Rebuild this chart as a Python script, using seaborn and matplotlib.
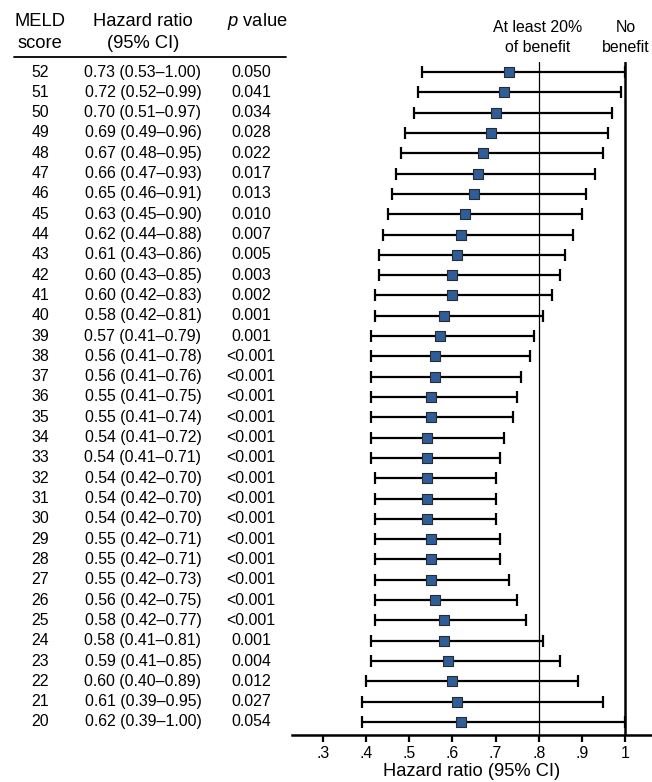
import matplotlib
matplotlib.use("Agg")
import matplotlib.pyplot as plt
import matplotlib.transforms as mtransforms
import seaborn as sns
import pandas as pd
import numpy as np

meld = [52, 51, 50, 49, 48, 47, 46, 45, 44, 43, 42, 41, 40, 39, 38, 37, 36,
        35, 34, 33, 32, 31, 30, 29, 28, 27, 26, 25, 24, 23, 22, 21, 20]
hr = [0.73, 0.72, 0.70, 0.69, 0.67, 0.66, 0.65, 0.63, 0.62, 0.61, 0.60, 0.60,
      0.58, 0.57, 0.56, 0.56, 0.55, 0.55, 0.54, 0.54, 0.54, 0.54, 0.54, 0.55,
      0.55, 0.55, 0.56, 0.58, 0.58, 0.59, 0.60, 0.61, 0.62]
lo = [0.53, 0.52, 0.51, 0.49, 0.48, 0.47, 0.46, 0.45, 0.44, 0.43, 0.43, 0.42,
      0.42, 0.41, 0.41, 0.41, 0.41, 0.41, 0.41, 0.41, 0.42, 0.42, 0.42, 0.42,
      0.42, 0.42, 0.42, 0.42, 0.41, 0.41, 0.40, 0.39, 0.39]
hi = [1.00, 0.99, 0.97, 0.96, 0.95, 0.93, 0.91, 0.90, 0.88, 0.86, 0.85, 0.83,
      0.81, 0.79, 0.78, 0.76, 0.75, 0.74, 0.72, 0.71, 0.70, 0.70, 0.70, 0.71,
      0.71, 0.73, 0.75, 0.77, 0.81, 0.85, 0.89, 0.95, 1.00]
pval = ["0.050", "0.041", "0.034", "0.028", "0.022", "0.017", "0.013", "0.010",
        "0.007", "0.005", "0.003", "0.002", "0.001", "0.001"] + ["<0.001"] * 14 + \
       ["0.001", "0.004", "0.012", "0.027", "0.054"]
xticks = [0.3, 0.4, 0.5, 0.6, 0.7, 0.8, 0.9, 1.0]
xticklabels = [".3", ".4", ".5", ".6", ".7", ".8", ".9", "1"]

df = pd.DataFrame({"meld": meld, "hr": hr, "lo": lo, "hi": hi, "p": pval})
df["row"] = np.arange(len(df))

sns.set_theme(style="white")
plt.rcParams["font.family"] = ["Liberation Sans", "DejaVu Sans"]
plt.rcParams["text.color"] = "black"
plt.rcParams["axes.labelcolor"] = "black"
plt.rcParams["xtick.color"] = "black"
plt.rcParams["mathtext.fontset"] = "custom"
plt.rcParams["mathtext.it"] = "Liberation Sans:italic"
plt.rcParams["mathtext.rm"] = "Liberation Sans"

W, H = 652, 782
fig = plt.figure(figsize=(W / 100, H / 100), dpi=100)
ax = fig.add_axes([292 / W, 1 - 735 / H, (652 - 292) / W, (735 - 62) / H])

# error bars
ax.errorbar(df["hr"], df["row"],
            xerr=[df["hr"] - df["lo"], df["hi"] - df["hr"]],
            fmt="none", ecolor="black", elinewidth=1.6, capsize=4, capthick=1.6,
            zorder=2)
sns.scatterplot(data=df, x="hr", y="row", marker="s", s=62, color="#2e5d99",
                edgecolor="#2b2b2b", linewidth=0.8, ax=ax, zorder=3, legend=False)

ax.axvline(0.8, color="black", lw=0.9, zorder=1)
ax.axvline(1.0, color="black", lw=1.8, zorder=1)

ax.set_xlim(0.228, 1.0626)
ax.set_ylim(32 + 13 / 20.3, -10 / 20.3)
ax.set_yticks([])
ax.set_xticks(xticks)
ax.set_xticklabels(xticklabels, fontsize=11.4, color="black")
ax.tick_params(axis="x", direction="out", length=5, width=1.6, color="black",
               labelcolor="black", pad=3, bottom=True)
for s in ["top", "left", "right"]:
    ax.spines[s].set_visible(False)
ax.spines["bottom"].set_linewidth(1.8)
ax.spines["bottom"].set_color("black")
ax.set_xlabel("Hazard ratio (95% CI)", fontsize=13.2, labelpad=1, color="black")
ax.set_ylabel("")
ax.set_facecolor("none")

# table text (figure x, data y)
trans = mtransforms.blended_transform_factory(fig.transFigure, ax.transData)
for i, r in df.iterrows():
    ax.text(40 / W, r["row"], str(r["meld"]), transform=trans, ha="center",
            va="center", fontsize=11.4, color="black", clip_on=False)
    ax.text(143 / W, r["row"],
            f"{r['hr']:.2f} ({r['lo']:.2f}\u2013{r['hi']:.2f})",
            transform=trans, ha="center", va="center", fontsize=11.4,
            color="black", clip_on=False)
    ax.text(251 / W, r["row"], r["p"], transform=trans, ha="center",
            va="center", fontsize=11.4, color="black", clip_on=False)

# headers
kw = dict(ha="center", va="center", color="black")
fig.text(40 / W, 1 - 21 / H, "MELD", fontsize=13.2, **kw)
fig.text(40 / W, 1 - 43 / H, "score", fontsize=13.2, **kw)
fig.text(143 / W, 1 - 21 / H, "Hazard ratio", fontsize=13.2, **kw)
fig.text(143 / W, 1 - 43 / H, "(95% CI)", fontsize=13.2, **kw)
fig.text(257 / W, 1 - 21 / H, "$\\mathit{p}$ value", fontsize=13.2, **kw)
fig.add_artist(plt.Line2D([14 / W, 286 / W], [1 - 57 / H, 1 - 57 / H],
                          transform=fig.transFigure, color="black", lw=1.3))

fig.text(538 / W, 1 - 27 / H, "At least 20%", fontsize=11.4, **kw)
fig.text(538 / W, 1 - 47 / H, "of benefit", fontsize=11.4, **kw)
fig.text(626 / W, 1 - 27 / H, "No", fontsize=11.4, **kw)
fig.text(626 / W, 1 - 47 / H, "benefit", fontsize=11.4, **kw)

fig.savefig("out.png", dpi=100, facecolor="white")
